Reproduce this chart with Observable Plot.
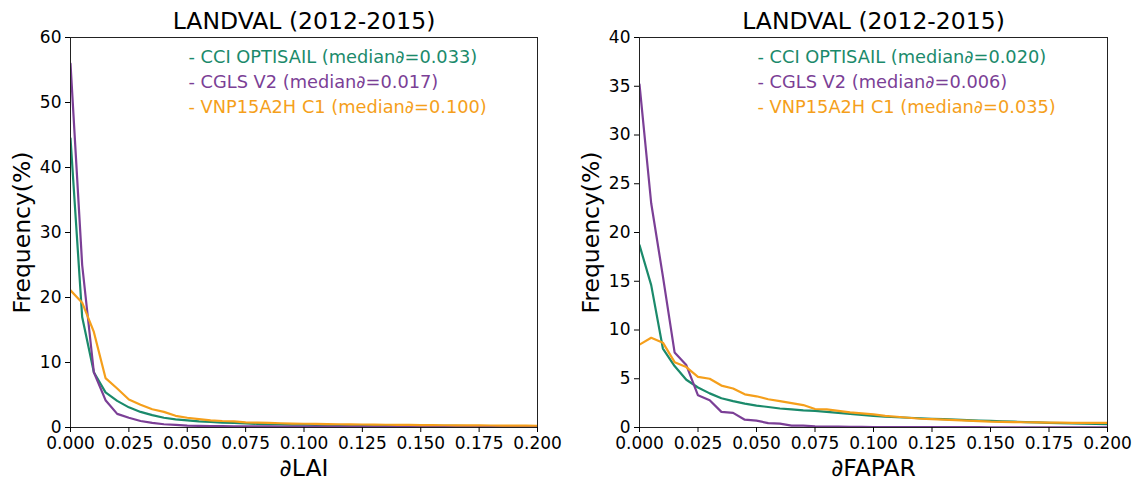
<!DOCTYPE html>
<html><head><meta charset="utf-8">
<script src="https://cdn.jsdelivr.net/npm/d3@7"></script>
<script src="https://cdn.jsdelivr.net/npm/@observablehq/plot@0.6"></script>
<style>
body{margin:0;background:#fff;}
#wrap{position:relative;width:1137px;height:481px;font-family:"DejaVu Sans",sans-serif;}
#wrap svg{position:absolute;top:0;}
</style></head><body><div id="wrap"></div>
<script>
const bins = [0,0.005,0.01,0.015,0.02,0.025,0.03,0.035,0.04,0.045,0.05,0.055,0.06,0.065,0.07,0.075,0.08,0.085,0.09,0.095,0.1,0.105,0.11,0.115,0.12,0.125,0.13,0.135,0.14,0.145,0.15,0.155,0.16,0.165,0.17,0.175,0.18,0.185,0.19,0.195,0.2];
const seriesNames = ["CCI OPTISAIL","CGLS V2","VNP15A2H C1"];
const colors = ["#1b8a6b","#7b3f96","#f59f1b"];
const title = "LANDVAL (2012-2015)";

const laiCCI  = [44.5,17.0,8.5,5.4,4.1,3.1,2.4,1.9,1.5,1.25,1.1,0.95,0.85,0.75,0.7,0.62,0.56,0.52,0.48,0.45,0.42,0.4,0.38,0.36,0.34,0.32,0.31,0.3,0.29,0.28,0.27,0.26,0.25,0.24,0.23,0.22,0.21,0.2,0.2,0.19,0.18];
const laiCGLS = [56.0,25.0,8.5,4.2,2.1,1.5,1.0,0.7,0.5,0.4,0.3,0.26,0.23,0.21,0.19,0.18,0.17,0.16,0.15,0.15,0.14,0.14,0.13,0.13,0.12,0.12,0.11,0.11,0.11,0.1,0.1,0.1,0.1,0.09,0.09,0.09,0.09,0.08,0.08,0.08,0.08];
const laiVNP  = [21.1,19.2,14.7,7.6,6.0,4.3,3.5,2.8,2.4,1.8,1.5,1.3,1.1,1.0,0.95,0.8,0.75,0.7,0.65,0.6,0.58,0.55,0.52,0.5,0.48,0.46,0.44,0.42,0.4,0.39,0.38,0.36,0.35,0.34,0.33,0.32,0.31,0.3,0.29,0.28,0.27];

const faparCCI  = [18.7,14.6,8.1,6.3,4.9,4.1,3.5,3.0,2.7,2.45,2.25,2.1,1.95,1.85,1.75,1.7,1.6,1.5,1.4,1.3,1.2,1.1,1.05,1.0,0.95,0.9,0.85,0.8,0.75,0.7,0.67,0.63,0.6,0.55,0.52,0.48,0.45,0.42,0.4,0.37,0.35];
const faparCGLS = [35.2,23.0,15.5,7.7,6.4,3.3,2.8,1.6,1.5,0.8,0.7,0.45,0.4,0.2,0.2,0.12,0.1,0.08,0.07,0.06,0.05,0.05,0.04,0.04,0.04,0.03,0.03,0.03,0.03,0.03,0.02,0.02,0.02,0.02,0.02,0.02,0.02,0.02,0.02,0.02,0.02];
const faparVNP  = [8.5,9.2,8.7,6.7,6.2,5.2,5.0,4.3,4.0,3.4,3.2,2.9,2.7,2.5,2.3,1.9,1.85,1.7,1.55,1.45,1.35,1.2,1.1,1.0,0.9,0.85,0.8,0.75,0.7,0.65,0.6,0.58,0.56,0.54,0.52,0.5,0.5,0.48,0.48,0.47,0.47];

const laiMedians   = ["0.033","0.017","0.100"];
const faparMedians = ["0.020","0.006","0.035"];
const xTicks = [0,0.025,0.05,0.075,0.1,0.125,0.15,0.175,0.2];
const laiYTicks = [0,10,20,30,40,50,60];
const faparYTicks = [0,5,10,15,20,25,30,35,40];

function panel({values, medians, yTicks, yMax, xLabel, width, marginLeft, marginRight}) {
  const rows = [];
  values.forEach((arr, s) => arr.forEach((v, i) => rows.push({x: bins[i], y: v, s: seriesNames[s]})));
  return Plot.plot({
    width, height: 481, marginLeft, marginRight, marginTop: 37, marginBottom: 54,
    style: {fontFamily: "DejaVu Sans", fontSize: "17px", color: "#000", background: "transparent", overflow: "visible"},
    x: {domain: [0, 0.2]},
    y: {domain: [0, yMax]},
    color: {domain: seriesNames, range: colors},
    marks: [
      Plot.line(rows, {x: "x", y: "y", z: "s", stroke: "s", strokeWidth: 2.2, clip: true}),
      Plot.frame({stroke: "#222", strokeWidth: 1}),
      Plot.axisX({ticks: xTicks, tickFormat: d3.format(".3f"), tickSize: 5, label: null, fontSize: 17}),
      Plot.axisY({ticks: yTicks, tickSize: 5, label: null, fontSize: 17}),
      Plot.text([title], {text: d => d, frameAnchor: "top", lineAnchor: "bottom", dy: -9, fontSize: 23.5, fill: "#000"}),
      Plot.text([xLabel], {text: d => d, frameAnchor: "bottom", lineAnchor: "bottom", dy: 48, fontSize: 23.5, fill: "#000"}),
      Plot.text(["Frequency(%)"], {text: d => d, frameAnchor: "left", rotate: -90, textAnchor: "middle", lineAnchor: "middle", dx: -48, fontSize: 23.5, fill: "#000"}),
      ...seriesNames.map((n, i) => Plot.text([`- ${n} (median∂=${medians[i]})`], {text: d => d, frameAnchor: "top-left", textAnchor: "start", lineAnchor: "middle", dx: 118, dy: 20 + 25 * i, fill: colors[i], fontSize: 17.8}))
    ]
  });
}

const wrap = document.getElementById("wrap");
const left = panel({values: [laiCCI, laiCGLS, laiVNP], medians: laiMedians, yTicks: laiYTicks, yMax: 60, xLabel: "∂LAI", width: 568, marginLeft: 70, marginRight: 31});
left.style.left = "0px";
wrap.appendChild(left);
const right = panel({values: [faparCCI, faparCGLS, faparVNP], medians: faparMedians, yTicks: faparYTicks, yMax: 40, xLabel: "∂FAPAR", width: 569, marginLeft: 71, marginRight: 30});
right.style.left = "568px";
wrap.appendChild(right);
</script>
</body></html>
